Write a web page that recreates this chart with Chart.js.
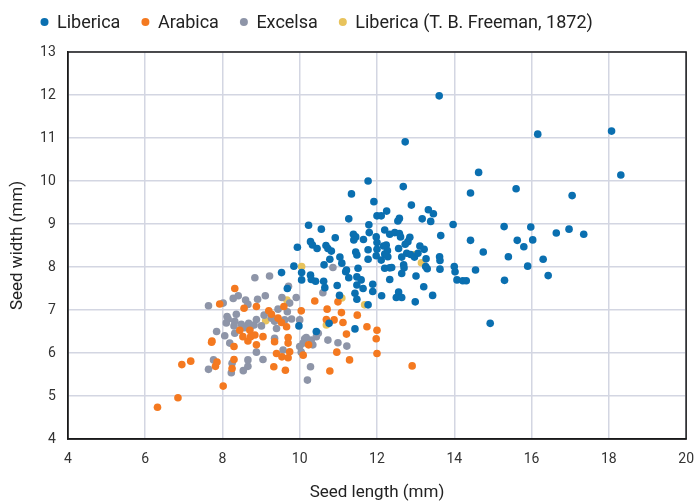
<!DOCTYPE html>
<html>
<head>
<meta charset="utf-8">
<script src="https://cdn.jsdelivr.net/npm/chart.js@4"></script>
<style>
  html, body { margin: 0; padding: 0; background: #ffffff; }
  #wrap { width: 694px; height: 501px; position: relative; }
</style>
</head>
<body>
<div id="wrap"><canvas id="c" width="694" height="501"></canvas></div>
<script>
const seriesNames = ['Liberica', 'Arabica', 'Excelsa', 'Liberica (T. B. Freeman, 1872)'];
const seriesColors = ['#0a6fb0', '#f47920', '#8e95a8', '#e8c35c'];
const xTitle = 'Seed length (mm)';
const yTitle = 'Seed width (mm)';
const xRange = [4, 20];
const yRange = [4, 13];
const xStep = 2;
const yStep = 1;

const liberica = [
  [16.16,11.09],[18.07,11.16],[18.31,10.14],[14.63,10.2],[15.6,9.82],[17.05,9.66],[15.29,8.94],[15.98,8.93],
  [16.64,8.79],[16.97,8.88],[17.35,8.76],[15.63,8.62],[16.03,8.63],[15.8,8.47],[14.75,8.35],[15.4,8.24],
  [16.3,8.18],[15.9,8.02],[16.43,7.8],[15.3,7.69],[14.93,6.69],[13.61,11.98],[12.73,10.91],[11.77,10.0],
  [12.68,9.87],[14.42,9.72],[12.89,9.44],[12.25,9.3],[13.33,9.33],[13.46,9.24],[12.58,9.13],[12.54,9.07],
  [13.17,9.12],[13.39,9.06],[13.97,8.99],[12.2,8.86],[12.33,8.76],[12.46,8.8],[12.58,8.78],[12.61,8.7],
  [13.65,8.73],[12.85,8.69],[12.8,8.59],[12.73,8.53],[14.42,8.62],[12.24,8.51],[12.56,8.43],[12.27,8.38],
  [13.11,8.49],[13.22,8.41],[12.77,8.32],[12.87,8.29],[12.97,8.23],[13.06,8.32],[12.64,8.23],[13.27,8.19],
  [13.62,8.24],[13.63,8.15],[12.28,8.24],[12.69,8.05],[12.7,7.98],[12.33,7.98],[12.2,7.97],[13.26,8.01],
  [13.3,7.96],[13.63,7.95],[14.0,8.01],[14.02,7.89],[14.55,7.93],[12.64,7.85],[14.07,7.7],[14.22,7.68],
  [14.31,7.68],[12.33,7.71],[13.01,7.79],[13.21,7.54],[13.44,7.34],[12.56,7.42],[12.5,7.29],[12.64,7.29],
  [12.99,7.19],[11.34,9.7],[11.92,9.52],[12.0,9.19],[12.11,9.19],[11.27,9.12],[10.23,8.97],[10.56,8.88],
  [11.79,8.98],[11.39,8.76],[11.45,8.7],[10.92,8.68],[11.8,8.8],[11.65,8.64],[11.4,8.63],[11.98,8.7],
  [12.0,8.57],[10.28,8.59],[10.33,8.51],[10.45,8.43],[9.94,8.46],[10.68,8.5],[10.73,8.43],[10.82,8.37],
  [11.45,8.35],[11.48,8.28],[11.77,8.4],[12.0,8.41],[12.17,8.49],[12.2,8.3],[11.98,8.26],[10.78,8.18],
  [11.04,8.23],[11.77,8.18],[12.11,8.16],[11.09,8.09],[10.63,8.05],[9.85,8.02],[11.21,7.93],[11.51,7.97],
  [12.38,7.99],[9.53,7.87],[10.05,7.87],[10.05,7.7],[10.28,7.81],[10.3,7.71],[10.41,7.67],[10.62,7.67],
  [10.65,7.52],[10.97,7.57],[11.03,7.34],[11.27,7.75],[11.19,7.89],[11.48,7.77],[11.48,7.58],[11.64,7.5],
  [11.43,7.39],[11.48,7.25],[11.77,7.12],[11.89,7.6],[11.89,7.43],[12.12,7.33],[10.76,6.69],[9.98,6.63],
  [11.43,6.56],[9.68,7.5],[11.59,7.7],[10.43,6.5]
];

const arabica = [
  [6.32,4.74],[6.85,4.96],[8.02,5.23],[6.95,5.73],[7.18,5.81],[7.82,5.69],[7.86,5.79],[7.73,6.28],[7.93,7.14],
  [8.32,7.5],[8.56,7.04],[8.88,7.08],[9.2,6.98],[9.59,7.08],[9.27,6.9],[9.44,6.81],[9.53,6.71],
  [8.45,6.53],[8.53,6.38],[8.66,6.28],[8.73,6.38],[8.84,6.42],[8.88,6.19],[9.05,6.38],[9.35,6.26],
  [7.72,6.25],[8.3,6.15],[9.4,5.99],[9.54,5.91],[9.74,6.03],[8.3,5.85],[9.33,5.68],
  [8.25,5.64],[8.71,6.53],[10.39,7.21],[10.71,7.02],[10.04,6.98],[11.08,6.94],[11.49,6.88],[10.69,6.78],
  [10.89,6.77],[11.12,6.71],[11.74,6.61],[12.0,6.53],[11.21,6.44],[11.98,6.33],[10.23,6.19],[10.09,5.95],
  [10.96,6.02],[12.0,5.99],[11.29,5.84],[10.78,5.58],[9.7,6.36],[9.7,6.23],[9.66,6.61],[9.7,5.89],
  [9.63,5.6],[10.99,7.19],[12.91,5.7]
];

const excelsa = [
  [8.23,5.54],[8.66,5.69],[8.84,7.75],[9.22,7.79],[9.71,7.55],[8.28,7.27],[8.41,7.33],[8.6,7.23],
  [8.91,7.25],[9.11,7.33],[9.54,7.29],[9.74,7.16],[8.02,7.16],[7.64,7.1],[8.66,7.13],[8.36,6.9],
  [9.44,7.02],[9.68,6.96],[9.08,6.88],[8.15,6.79],[8.32,6.74],[8.3,6.63],[8.49,6.67],[8.68,6.69],
  [8.88,6.78],[8.73,6.61],[8.82,6.65],[8.58,6.59],[9.35,6.74],[9.27,6.81],[9.61,6.77],[9.79,6.79],
  [9.01,6.63],[9.4,6.57],[8.32,6.46],[7.85,6.5],[8.06,6.4],[8.19,6.23],[8.88,6.02],[9.35,6.34],
  [9.57,6.07],[7.77,5.84],[7.64,5.62],[8.25,5.76],[8.54,5.59],[8.66,5.84],[9.05,5.85],[9.91,7.29],
  [10.0,6.77],[10.13,6.33],[10.09,6.23],[10.0,6.15],[10.04,6.02],[10.17,6.36],[10.3,6.3],[10.34,6.19],
  [10.43,6.38],[10.48,6.46],[10.73,6.3],[10.99,6.24],[11.22,6.16],[10.28,5.68],[10.2,5.37],[10.6,7.4],
  [10.86,7.99],[8.12,6.85],[8.1,6.7]
];

const freeman = [
  [10.05,8.01],[11.68,7.12],[9.67,7.23],[11.09,7.28],[10.69,6.65],[9.12,6.75],[13.15,8.1],[12.99,8.29]
];

const seriesData = [liberica, arabica, excelsa, freeman];

const FONT = 'Roboto, "Liberation Sans", sans-serif';

const framePlugin = {
  id: 'frame',
  beforeDatasetsDraw(chart) {
    const {ctx, chartArea: a} = chart;
    ctx.save();
    ctx.strokeStyle = '#1a1a1a';
    ctx.lineWidth = 1.5;
    ctx.strokeRect(a.left, a.top, a.right - a.left, a.bottom - a.top);
    ctx.restore();
  }
};

// Legend drawn from the chart's own datasets (labels and colours)
const topLegend = {
  id: 'topLegend',
  afterDraw(chart, args, opts) {
    const {ctx} = chart;
    ctx.save();
    ctx.font = '18px ' + FONT;
    ctx.textBaseline = 'alphabetic';
    ctx.textAlign = 'left';
    let cx = opts.startX;
    chart.data.datasets.forEach(ds => {
      ctx.fillStyle = ds.backgroundColor;
      ctx.beginPath();
      ctx.arc(cx, opts.centerY, opts.radius, 0, Math.PI * 2);
      ctx.fill();
      const tx = cx + opts.textGap;
      ctx.fillStyle = '#222222';
      ctx.fillText(ds.label, tx, opts.baseline);
      cx = tx + ctx.measureText(ds.label).width + opts.itemGap;
    });
    ctx.restore();
  }
};

new Chart(document.getElementById('c'), {
  type: 'scatter',
  data: {
    datasets: seriesData.map((pts, i) => ({
      label: seriesNames[i],
      data: pts.map(p => ({x: p[0], y: p[1]})),
      backgroundColor: seriesColors[i],
      borderColor: seriesColors[i],
      borderWidth: 0,
      pointRadius: 3.8,
      pointHoverRadius: 3.8
    }))
  },
  options: {
    responsive: false,
    animation: false,
    devicePixelRatio: 1,
    layout: { padding: { left: 0, right: 0, top: 52, bottom: 0 } },
    plugins: {
      tooltip: { enabled: false },
      legend: { display: false },
      topLegend: { startX: 44.5, centerY: 22, radius: 4, textGap: 12.5, itemGap: 25, baseline: 28 }
    },
    scales: {
      x: {
        type: 'linear',
        min: xRange[0], max: xRange[1],
        ticks: { stepSize: xStep, padding: 0, color: '#333333', font: { family: FONT, size: 14 } },
        grid: { color: '#d3d6e2', lineWidth: 1.5, drawTicks: true, tickLength: 12, tickColor: 'rgba(0,0,0,0)' },
        border: { display: true, color: '#1a1a1a', width: 1.5 },
        title: { display: true, text: xTitle, color: '#222222', font: { family: FONT, size: 17 }, padding: { top: 14.8, bottom: -2 } }
      },
      y: {
        type: 'linear',
        min: yRange[0], max: yRange[1],
        ticks: { stepSize: yStep, padding: 0, color: '#333333', font: { family: FONT, size: 14 } },
        grid: { color: '#d3d6e2', lineWidth: 1.5, drawTicks: true, tickLength: 12, tickColor: 'rgba(0,0,0,0)' },
        border: { display: true, color: '#1a1a1a', width: 1.5 },
        title: { display: true, text: yTitle, color: '#222222', font: { family: FONT, size: 17 }, padding: { top: 8, bottom: 11.7 } }
      }
    }
  },
  plugins: [framePlugin, topLegend]
});
</script>
</body>
</html>
